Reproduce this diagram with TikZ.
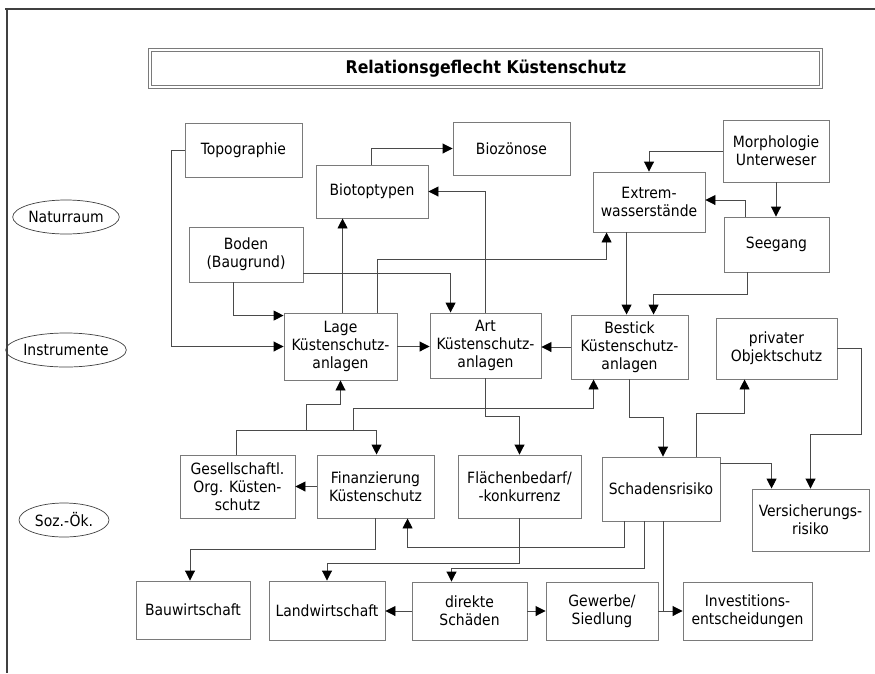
\documentclass[tikz,border=0pt]{standalone}
\usepackage{fontspec}
\setmainfont{DejaVu Sans Condensed}
\usetikzlibrary{arrows.meta,shapes.geometric}
\definecolor{boxgray}{HTML}{7A7A7A}
\definecolor{linegray}{HTML}{4A4A4A}
\definecolor{framegray}{HTML}{404040}
\tikzset{
  box/.style={draw=boxgray, line width=0.9pt, align=center, inner sep=0pt,
    font=\fontsize{15.5}{18}\selectfont},
  oval/.style={draw=framegray, ellipse, line width=0.7pt, inner sep=0pt,
    minimum width=96pt, minimum height=34pt, font=\fontsize{15.5}{18}\selectfont},
  conn/.style={draw=linegray, line width=0.9pt, -{Triangle[length=10pt,width=10pt,color=black]}},
  plain/.style={draw=linegray, line width=0.9pt},
}
\begin{document}
\begin{tikzpicture}[x=1pt,y=-1pt]
\useasboundingbox (0,0) rectangle (875,673);
\fill[white] (0,0) rectangle (875,673);
% frame
\draw[framegray, line width=2.5pt] (5,9) -- (875,9);
\draw[framegray, line width=2.5pt] (7,8) -- (7,673);
% title
\draw[boxgray, line width=0.9pt] (148,48) rectangle (822,88);
\draw[boxgray, line width=0.9pt] (151,51) rectangle (819,85);
\node[font=\bfseries\fontsize{17.5}{20}\selectfont] (title) at (486,69) {Relationsgeflecht Küstenschutz};
% ellipses
\node[oval] (natur) at (66,217) {Naturraum};
\node[oval] (instr) at (66,350) {Instrumente};
\node[oval, minimum width=90pt] (sozoek) at (64,520) {Soz.-Ök.};
% boxes
\node[box, minimum width=117pt, minimum height=54pt] (topo) at (243.5,150) {Topographie};
\node[box, minimum width=117pt, minimum height=53pt] (bioz) at (511.5,148.5) {Biozönose};
\node[box, minimum width=106pt, minimum height=62pt] (morph) at (776,151) {Morphologie\\Unterweser};
\node[box, minimum width=112pt, minimum height=53pt] (biot) at (372,191.5) {Biotoptypen};
\node[box, minimum width=112pt, minimum height=60pt] (extrem) at (649,202) {Extrem-\\wasserstände};
\node[box, minimum width=105pt, minimum height=55pt] (seegang) at (776.5,244.5) {Seegang};
\node[box, minimum width=114pt, minimum height=55pt] (boden) at (246,254.5) {Boden\\(Baugrund)};
\node[box, minimum width=113pt, minimum height=67pt] (lage) at (340.5,346.5) {Lage\\Küstenschutz-\\anlagen};
\node[box, minimum width=111pt, minimum height=65pt] (art) at (485.5,345.5) {Art\\Küstenschutz-\\anlagen};
\node[box, minimum width=117pt, minimum height=64pt] (bestick) at (629.5,347) {Bestick\\Küstenschutz-\\anlagen};
\node[box, minimum width=121pt, minimum height=61pt] (priv) at (776.5,348.5) {privater\\Objektschutz};
\node[box, minimum width=115pt, minimum height=63pt] (gesell) at (237.5,486.5) {Gesellschaftl.\\Org. Küsten-\\schutz};
\node[box, minimum width=117pt, minimum height=63pt] (finanz) at (375.5,486.5) {Finanzierung\\Küstenschutz};
\node[box, minimum width=123pt, minimum height=63pt] (flaech) at (519.5,486.5) {Flächenbedarf/\\-konkurrenz};
\node[box, minimum width=118pt, minimum height=64pt] (schaden) at (661,489) {Schadensrisiko};
\node[box, minimum width=117pt, minimum height=62pt] (vers) at (810.5,520) {Versicherungs-\\risiko};
\node[box, minimum width=114pt, minimum height=58pt] (bau) at (193,610) {Bauwirtschaft};
\node[box, minimum width=116pt, minimum height=59pt] (land) at (327,610.5) {Landwirtschaft};
\node[box, minimum width=115pt, minimum height=58pt] (direkt) at (469.5,611) {direkte\\Schäden};
\node[box, minimum width=112pt, minimum height=58pt] (gewerbe) at (602,611) {Gewerbe/\\Siedlung};
\node[box, minimum width=129pt, minimum height=58pt] (invest) at (747.5,611) {Investitions-\\entscheidungen};
% junction coordinates
\coordinate (j1) at (306,431);
\coordinate (j2) at (353,431);
% connectors
\draw[conn] (topo.west) -- ++(-13,0) |- (lage.west);
\draw[conn] ([xshift=45pt]boden.south west) |- ([yshift=-3pt]lage.north west);
\draw[conn] ([yshift=9pt]boden.south east) -| ([xshift=21pt]art.north west);
\draw[conn] ([xshift=59pt]lage.north west) -- ([xshift=27pt]biot.south west);
\draw[conn] ([xshift=94pt]lage.north west) -- ++(0,-53) -| ([xshift=14pt]extrem.south west);
\draw[conn] ([xshift=56pt]biot.north west) |- (bioz.west);
\draw[conn] ([xshift=56pt]art.north west) |- (biot.east);
\draw[conn] (morph.west) -| (extrem.north);
\draw[conn] (morph.south) -- (morph.south |- seegang.north);
\draw[conn] ([xshift=22pt]seegang.north west) |- ([yshift=2pt]extrem.east);
\draw[conn] ([xshift=34pt]extrem.south west) -- ([xshift=56pt]bestick.north west);
\draw[conn] ([xshift=24pt]seegang.south west) -- ++(0,22) -| ([xshift=83pt]bestick.north west);
\draw[conn] (lage.east) -- (lage.east -| art.west);
\draw[conn] (bestick.west) -- (bestick.west -| art.east);
\draw[conn] ([xshift=57pt]gesell.north west) -- ++(0,-24) -| ([xshift=60pt]finanz.north west);
\draw[conn] (j1) -- ++(0,-27) -| (lage.south);
\draw[conn] (j2) -- ++(0,-23) -| ([xshift=23pt]bestick.south west);
\draw[conn] (finanz.west) -- (finanz.west -| gesell.east);
\draw[conn] ([xshift=56pt]art.south west) -- ++(0,38) -| (flaech.north);
\draw[conn] ([xshift=59pt]bestick.south west) -- ++(0,38) -| ([xshift=2pt]schaden.north);
\draw[conn] ([xshift=95pt]schaden.north west) -- ++(0,-43) -| ([xshift=29pt]priv.south west);
\draw[conn] (priv.east) -- ++(24,0) -- ++(0,86) -| (vers.north);
\draw[conn] ([yshift=-7pt]schaden.north east) -| ([xshift=20pt]vers.north west);
\draw[conn] ([xshift=59pt]finanz.south west) -- ++(0,31) -| ([xshift=-3pt]bau.north);
\draw[conn] ([xshift=23pt]schaden.south west) -- ++(0,26) -| ([xshift=91pt]finanz.south west);
\draw[conn] (flaech.south) -- ++(0,45) -| (land.north);
\draw[conn] ([xshift=43pt]schaden.south west) -- ++(0,47) -| ([xshift=-18pt]direkt.north);
\draw[plain] ([xshift=62pt]schaden.south west) -- ++(0,90);
\draw[conn] (direkt.west) -- (direkt.west -| land.east);
\draw[conn] (direkt.east) -- (direkt.east -| gewerbe.west);
\draw[conn] (gewerbe.east) -- (gewerbe.east -| invest.west);
\end{tikzpicture}
\end{document}
